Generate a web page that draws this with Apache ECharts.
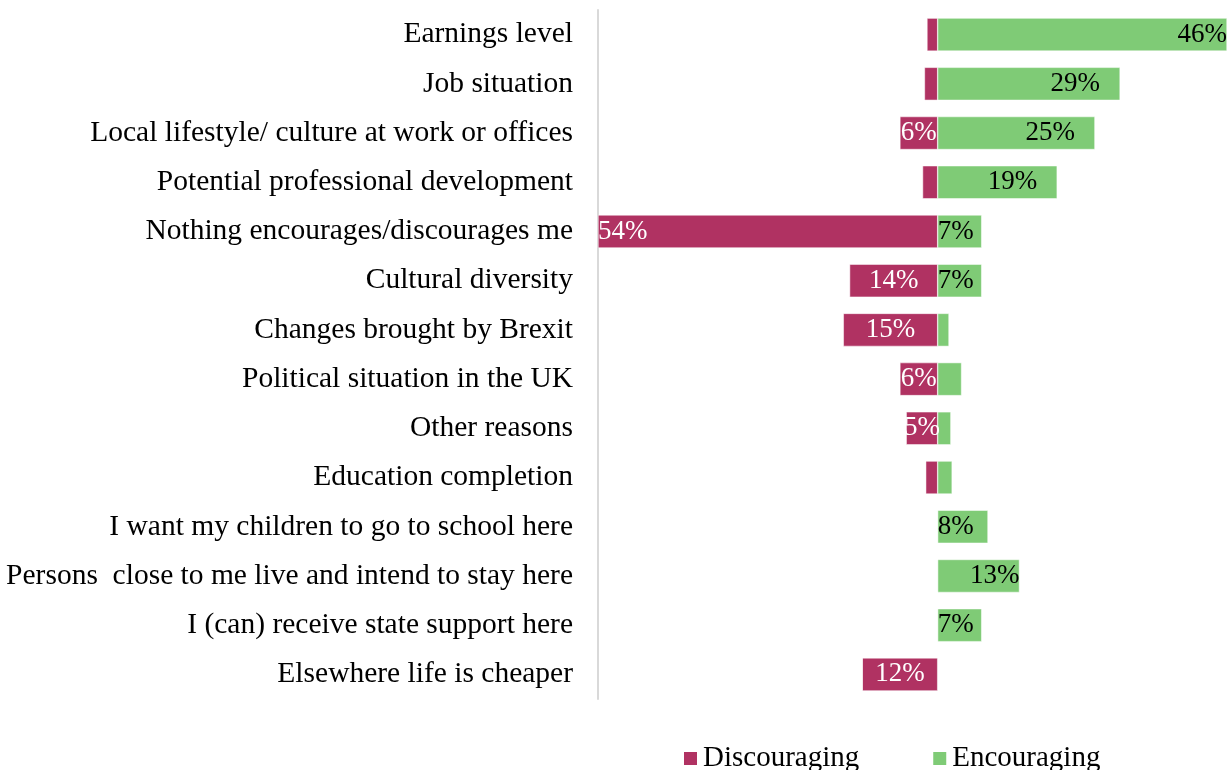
<!DOCTYPE html>
<html>
<head>
<meta charset="utf-8">
<script src="https://cdn.jsdelivr.net/npm/echarts@6/dist/echarts.min.js"></script>
<style>
  html, body { margin: 0; padding: 0; background: #fff; }
  #main { width: 1231px; height: 770px; }
</style>
</head>
<body>
<div id="main"></div>
<script>
// categories, top to bottom
var categories = [
  'Earnings level',
  'Job situation',
  'Local lifestyle/ culture at work or offices',
  'Potential professional development',
  'Nothing encourages/discourages me',
  'Cultural diversity',
  'Changes brought by Brexit',
  'Political situation in the UK',
  'Other reasons',
  'Education completion',
  'I want my children to go to school here',
  'Persons  close to me live and intend to stay here',
  'I (can) receive state support here',
  'Elsewhere life is cheaper'
];
// percent of respondents
var discouraging = [1.7, 2.1, 6, 2.4, 54, 14, 15, 6, 5, 1.9, 0, 0, 0, 12];
var encouraging = [46, 29, 25, 19, 7, 7, 1.8, 3.8, 2.1, 2.3, 8, 13, 7, 0];

var serif = '"Liberation Serif", "Times New Roman", serif';

function showLabel(v) {
  return Math.abs(v) >= 4.5 ? Math.round(Math.abs(v)) + '%' : '';
}

var discData = discouraging.map(function (v) {
  var item = { value: -v };
  // the 54% label sits at the far end of the bar
  if (v > 40) item.label = { position: 'insideLeft', distance: 0 };
  return item;
});
var encData = encouraging.map(function (v) {
  var item = { value: v };
  if (v >= 15 && v < 40) item.label = { position: 'insideRight', distance: 20 };
  else if (v < 10) item.label = { position: 'insideLeft', distance: 0 };
  return item;
});

var myChart = echarts.init(document.getElementById('main'));
var option = {
  animation: false,
  grid: { left: 598, right: 4, top: 10, bottom: 71 },
  legend: {
    data: ['Discouraging', 'Encouraging'],
    left: 677,
    top: 739,
    itemWidth: 15,
    itemHeight: 15,
    itemGap: 72,
    icon: 'rect',
    textStyle: { fontFamily: serif, fontSize: 29, color: '#000' }
  },
  xAxis: {
    type: 'value',
    min: -54,
    max: 46,
    show: false
  },
  yAxis: {
    type: 'category',
    inverse: true,
    data: categories,
    axisLine: { onZero: false, lineStyle: { color: '#d9d9d9', width: 2 } },
    axisTick: { show: false },
    axisLabel: { fontFamily: serif, fontSize: 29.5, color: '#000', margin: 25 }
  },
  series: [{
    name: 'Discouraging',
    type: 'bar',
    stack: 'total',
    barCategoryGap: '33%',
    itemStyle: { color: '#b03262', borderColor: '#fff', borderWidth: 0.5 },
    label: {
      show: true,
      position: 'inside',
      color: '#fff',
      fontFamily: serif,
      fontSize: 27,
      formatter: function (p) { return showLabel(p.value); }
    },
    data: discData
  }, {
    name: 'Encouraging',
    type: 'bar',
    stack: 'total',
    barCategoryGap: '33%',
    itemStyle: { color: '#7fcb76', borderColor: '#fff', borderWidth: 0.5 },
    label: {
      show: true,
      position: 'insideRight',
      distance: 0,
      color: '#000',
      fontFamily: serif,
      fontSize: 27,
      formatter: function (p) { return showLabel(p.value); }
    },
    data: encData
  }]
};
myChart.setOption(option);
</script>
</body>
</html>
